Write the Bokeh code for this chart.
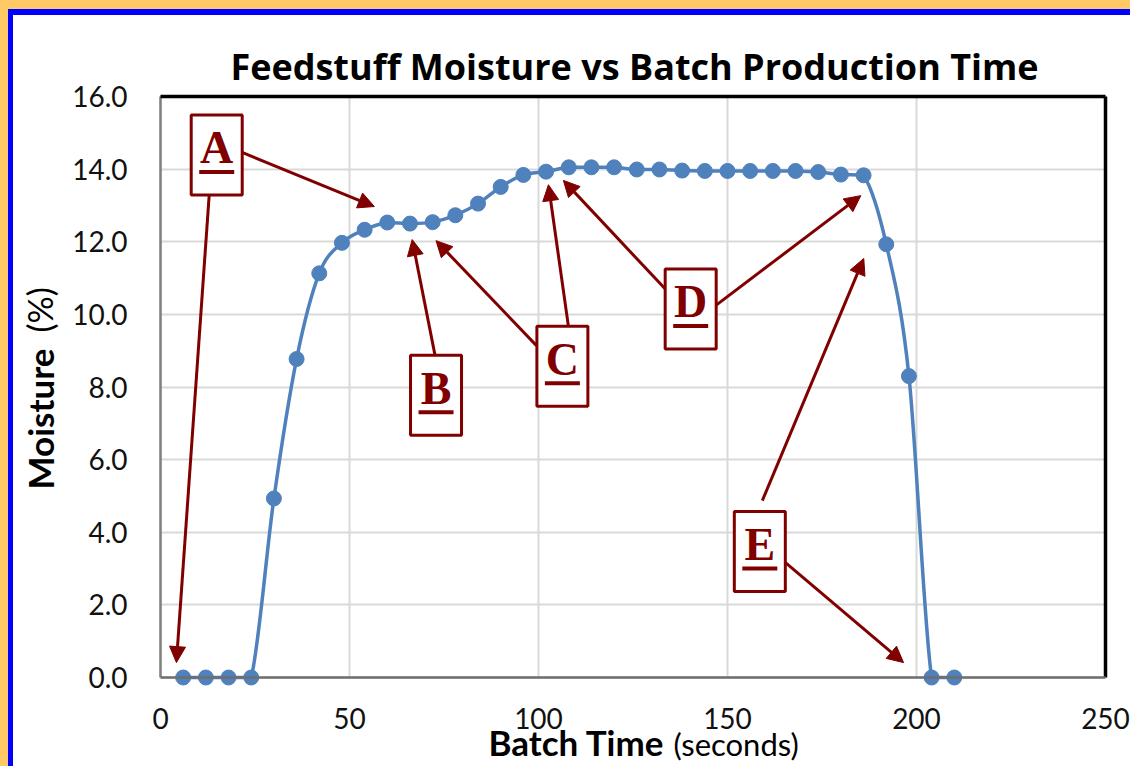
import numpy as np
from bokeh.plotting import figure
from bokeh.layouts import column
from bokeh.models import Range1d, FixedTicker, PrintfTickFormatter, Label, Arrow, NormalHead
from bokeh.core.properties import value
from bokeh.embed import file_html
from bokeh.resources import INLINE

# ---------------- data ----------------
batch_time = [6, 12, 18, 24, 30, 36, 42, 48, 54, 60, 66, 72, 78, 84, 90, 96, 102, 108,
              114, 120, 126, 132, 138, 144, 150, 156, 162, 168, 174, 180, 186, 192, 198, 204, 210]
moisture = [0.0, 0.0, 0.0, 0.0, 4.93, 8.77, 11.13, 11.97, 12.33, 12.53, 12.50, 12.54, 12.73,
            13.05, 13.51, 13.84, 13.93, 14.05, 14.05, 14.05, 13.99, 13.99, 13.96, 13.95, 13.95,
            13.95, 13.95, 13.95, 13.92, 13.85, 13.83, 11.93, 8.30, 0.0, 0.0]

x_ticks = [0, 50, 100, 150, 200, 250]
y_ticks = [0, 2, 4, 6, 8, 10, 12, 14, 16]

# call-out letters (box centres, data units)
letters = ["A", "B", "C", "D", "E"]
letter_x = [14.87, 72.89, 106.32, 140.26, 158.55]
letter_y = [14.39, 7.77, 8.57, 10.15, 3.47]

# call-out arrows (start -> tip, data units)
arrow_x0 = [21.58, 12.89, 72.63, 99.47, 107.89, 133.42, 146.84, 159.21, 165.26]
arrow_y0 = [14.46, 13.30, 8.87, 9.14, 9.69, 10.71, 10.24, 4.87, 3.17]
arrow_x1 = [56.58, 4.21, 66.58, 72.89, 102.63, 106.58, 185.26, 186.05, 196.58]
arrow_y1 = [12.97, 0.41, 12.06, 12.03, 13.57, 13.69, 13.27, 11.54, 0.41]

# ---------------- layout / style ----------------
BLUE = "#4F81BD"
DARKRED = "#800000"
FONT = "Lato"

CANVAS_W, CANVAS_H = 1117, 751
ORIGIN_X, ORIGIN_Y = 147, 662      # canvas pixel of the (0, 0) corner of the plot box
PX_X = 3.78                        # pixels per second
PX_Y = 36.3125                     # pixels per % moisture
x_start = -ORIGIN_X / PX_X
x_end = (CANVAS_W - ORIGIN_X) / PX_X
y_start = -(CANVAS_H - ORIGIN_Y) / PX_Y
y_end = ORIGIN_Y / PX_Y


def sx(dpx):
    """horizontal pixel offset from the y axis -> data x"""
    return dpx / PX_X


def sy(dpx):
    """vertical pixel offset above the x axis -> data y"""
    return dpx / PX_Y


p = figure(width=CANVAS_W, height=CANVAS_H,
           x_range=Range1d(x_start, x_end), y_range=Range1d(y_start, y_end),
           output_backend="svg", toolbar_location=None, min_border=0,
           background_fill_color="white", border_fill_color="white", outline_line_color=None)

x0f, x1f, y0f, y1f = x_ticks[0], x_ticks[-1], y_ticks[0], y_ticks[-1]

p.xaxis.fixed_location = y0f
p.yaxis.fixed_location = x0f
p.xaxis.bounds = (x0f, x1f)
p.yaxis.bounds = (y0f, y1f)
p.xaxis.ticker = FixedTicker(ticks=x_ticks)
p.yaxis.ticker = FixedTicker(ticks=y_ticks)
p.yaxis.formatter = PrintfTickFormatter(format="%.1f")
p.axis.major_tick_line_color = None
p.axis.minor_tick_line_color = None
p.axis.axis_line_color = None
p.axis.major_label_text_font = FONT
p.axis.major_label_text_font_size = "28px"
p.axis.major_label_text_color = "#111111"
p.yaxis.major_label_standoff = 27
p.xaxis.major_label_standoff = 24

p.xgrid.ticker = FixedTicker(ticks=x_ticks)
p.ygrid.ticker = FixedTicker(ticks=y_ticks)
grid_ok = True
try:
    p.xgrid.cross_bounds = (y0f, y1f)
    p.ygrid.cross_bounds = (x0f, x1f)
    p.grid.grid_line_color = "#D9D9D9"
    p.grid.grid_line_width = 2
except Exception:
    grid_ok = False
if not grid_ok:
    p.grid.grid_line_color = None
    p.segment(x0=x_ticks, y0=[y0f] * len(x_ticks), x1=x_ticks, y1=[y1f] * len(x_ticks),
              line_color="#D9D9D9", line_width=2)
    p.segment(x0=[x0f] * len(y_ticks), y0=y_ticks, x1=[x1f] * len(y_ticks), y1=y_ticks,
              line_color="#D9D9D9", line_width=2)

# plot-area box
p.add_layout(Arrow(end=None, x_start=x0f, y_start=y0f, x_end=x0f, y_end=y1f, line_color="#808080", line_width=2.5))
p.add_layout(Arrow(end=None, x_start=x0f, y_start=y1f, x_end=x1f, y_end=y1f, line_color="black", line_width=3.5))
p.add_layout(Arrow(end=None, x_start=x1f, y_start=y0f, x_end=x1f, y_end=y1f, line_color="black", line_width=3.5))
p.add_layout(Arrow(end=None, x_start=x0f, y_start=y0f, x_end=x1f, y_end=y0f, line_color="#6E6E6E", line_width=2.5))

# ---------------- smoothed line (Catmull-Rom bezier, clamped) ----------------
xs = np.array(batch_time, float)
ys = np.array(moisture, float)
n = len(xs)
px = np.concatenate([[xs[0]], xs, [xs[-1]]])
py = np.concatenate([[ys[0]], ys, [ys[-1]]])
bx0, by0 = px[1:n], py[1:n]
bx1, by1 = px[2:n + 1], py[2:n + 1]
cx0 = bx0 + (px[2:n + 1] - px[0:n - 1]) / 6
cy0 = by0 + (py[2:n + 1] - py[0:n - 1]) / 6
cx1 = bx1 - (px[3:n + 2] - px[1:n]) / 6
cy1 = by1 - (py[3:n + 2] - py[1:n]) / 6
lo = np.minimum(by0, by1)
hi = np.maximum(by0, by1)
cy0 = np.clip(cy0, lo, hi)
cy1 = np.clip(cy1, lo, hi)
p.bezier(x0=bx0, y0=by0, x1=bx1, y1=by1, cx0=cx0, cy0=cy0, cx1=cx1, cy1=cy1,
         line_color=BLUE, line_width=3.5)
p.scatter(batch_time, moisture, size=15, fill_color=BLUE, line_color=BLUE)

# ---------------- call-outs ----------------
for a, b, c, d in zip(arrow_x0, arrow_y0, arrow_x1, arrow_y1):
    p.add_layout(Arrow(x_start=a, y_start=b, x_end=c, y_end=d, line_color=DARKRED, line_width=3,
                       end=NormalHead(size=16, fill_color=DARKRED, line_color=DARKRED, line_width=1)))

p.rect(x=letter_x, y=letter_y, width=51, height=80, width_units="screen", height_units="screen",
       fill_color="white", line_color=DARKRED, line_width=3, level="overlay")
p.text(x=letter_x, y=letter_y, text=letters, text_font=value("Liberation Serif"),
       text_font_style="bold", text_font_size="46px", text_color=DARKRED,
       text_align="center", text_baseline="alphabetic", y_offset=-7, level="overlay")
p.rect(x=letter_x, y=[v - sy(17) for v in letter_y], width=35, height=4,
       width_units="screen", height_units="screen", fill_color=DARKRED, line_color=None, level="overlay")

# ---------------- titles ----------------
p.add_layout(Label(x=sx(474), y=sy(611), text="Feedstuff Moisture vs Batch Production Time",
                   text_font="Open Sans", text_font_style="bold", text_font_size="36px",
                   text_align="center", text_baseline="alphabetic", text_color="black"))
p.add_layout(Label(x=sx(504), y=sy(-64), text="Batch Time",
                   text_font=FONT, text_font_style="bold", text_font_size="35px",
                   text_align="right", text_baseline="alphabetic", text_color="black"))
p.add_layout(Label(x=sx(513), y=sy(-66), text="(seconds)",
                   text_font=FONT, text_font_size="31px",
                   text_align="left", text_baseline="alphabetic", text_color="black"))
p.add_layout(Label(x=sx(-121), y=sy(329), text="Moisture", angle=np.pi / 2,
                   text_font=FONT, text_font_style="bold", text_font_size="35px",
                   text_align="right", text_baseline="alphabetic", text_color="black"))
p.add_layout(Label(x=sx(-121), y=sy(345), text="(%)", angle=np.pi / 2,
                   text_font=FONT, text_font_size="34px",
                   text_align="left", text_baseline="alphabetic", text_color="black"))

inner = column(p, styles={"border-top": "6px solid #0000FF", "border-left": "5px solid #0000FF"})
root = column(inner, styles={"border-top": "9px solid #FFC966", "border-left": "8px solid #FFC966"})
open("out.html", "w").write(file_html(root, INLINE))
